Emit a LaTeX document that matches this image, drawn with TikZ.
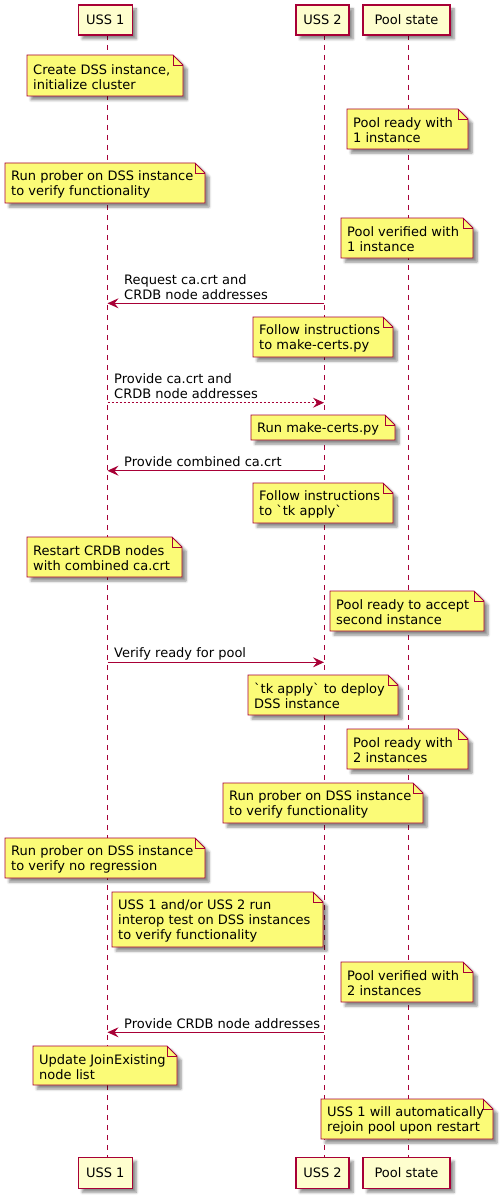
\documentclass[tikz,border=0pt]{standalone}
\usepackage{fontspec}
\setmainfont{DejaVu Sans}[Ligatures=TeXOff]
\usetikzlibrary{arrows.meta,shadows.blur}
\definecolor{pumlred}{HTML}{A80036}
\definecolor{pumlnote}{HTML}{FBFB77}
\definecolor{pumlpart}{HTML}{FEFECE}
\tikzset{
  shd/.style={blur shadow={shadow xshift=4pt,shadow yshift=-4pt,shadow blur radius=2.5pt,shadow blur steps=6,shadow opacity=45}},
  partbox/.style={draw=pumlred,fill=pumlpart,line width=1.4pt,shd,inner sep=0pt,font=\fontsize{13}{15}\selectfont},
  lifeline/.style={draw=pumlred,line width=0.9pt,dash pattern=on 5pt off 5pt},
  notebody/.style={draw=pumlred,fill=pumlnote,line width=0.9pt,shd},
  notefold/.style={draw=pumlred,line width=0.9pt},
  txt/.style={inner sep=0pt,align=left,anchor=west,yshift=-1.2pt,font=\fontsize{13}{15}\selectfont},
  msg/.style={draw=pumlred,line width=1pt,-{Stealth[length=11pt,width=10pt,inset=4pt]}},
  msgdash/.style={msg,dash pattern=on 2pt off 2pt}
}
\newcommand\pnote[6]{%
  \path[notebody] (#2,#3) -- (#4-10,#3) -- (#4,#3+10) -- (#4,#5) -- (#2,#5) -- cycle;
  \path[notefold] (#4-10,#3) -- (#4-10,#3+10) -- (#4,#3+10);
  \node[txt] (#1) at (#2+6,{(#3+#5)/2}) {#6};
}
\newcommand\bq{\symbol{96}}
\begin{document}
\begin{tikzpicture}[x=1pt,y=-1pt]
\useasboundingbox (0,0) rectangle (499,1201);
% lifelines
\coordinate (l1t) at (107.5,35); \coordinate (l1b) at (107.5,1157);
\coordinate (l2t) at (324,35);   \coordinate (l2b) at (324,1157);
\coordinate (l3t) at (408.3,35); \coordinate (l3b) at (408.3,1157);
\draw[lifeline] (l1t) -- (l1b);
\draw[lifeline] (l2t) -- (l2b);
\draw[lifeline] (l3t) -- (l3b);
% participants
\node[partbox,minimum width=54pt,minimum height=30pt] (u1top) at (105.3,20) {USS 1};
\node[partbox,minimum width=53pt,minimum height=30pt] (u2top) at (322.5,20) {USS 2};
\node[partbox,minimum width=87pt,minimum height=30pt] (pstop) at (406.5,20) {Pool state};
\node[partbox,minimum width=54pt,minimum height=31pt] (u1bot) at (105.3,1172.8) {USS 1};
\node[partbox,minimum width=53pt,minimum height=31pt] (u2bot) at (322.5,1172.8) {USS 2};
\node[partbox,minimum width=87pt,minimum height=31pt] (psbot) at (406.5,1172.8) {Pool state};
% notes
\pnote{n1}{27}{55}{183}{96}{Create DSS instance,\\initialize cluster}
\pnote{n2}{347}{109}{468}{149}{Pool ready with\\1 instance}
\pnote{n3}{5}{163}{205}{203}{Run prober on DSS instance\\to verify functionality}
\pnote{n4}{341}{218}{473}{258}{Pool verified with\\1 instance}
\pnote{n5}{253}{317}{393}{357}{Follow instructions\\to make-certs.py}
\pnote{n6}{251}{415}{395}{440}{Run make-certs.py}
\pnote{n7}{253}{483}{393}{523}{Follow instructions\\to \bq tk apply\bq}
\pnote{n8}{27}{537}{182}{577}{Restart CRDB nodes\\with combined ca.crt}
\pnote{n9}{330}{591}{484}{631}{Pool ready to accept\\second instance}
\pnote{n10}{248}{675}{398}{715}{\bq tk apply\bq{} to deploy\\DSS instance}
\pnote{n11}{347}{729}{468}{769}{Pool ready with\\2 instances}
\pnote{n12}{223}{783}{423}{823}{Run prober on DSS instance\\to verify functionality}
\pnote{n13}{5}{838}{205}{878}{Run prober on DSS instance\\to verify no regression}
\pnote{n14}{112}{892}{323}{947}{USS 1 and/or USS 2 run\\interop test on DSS instances\\to verify functionality}
\pnote{n15}{341}{962}{473}{1002}{Pool verified with\\2 instances}
\pnote{n16}{33}{1046}{177}{1085}{Update JoinExisting\\node list}
\pnote{n17}{321}{1099}{493}{1139}{USS 1 will automatically\\rejoin pool upon restart}
% messages
\coordinate (a1s) at (324,303.3);   \coordinate (a1e) at (107.5,303.3);
\coordinate (a2s) at (107.5,402.7); \coordinate (a2e) at (324,402.7);
\coordinate (a3s) at (324,470.7);   \coordinate (a3e) at (107.5,470.7);
\coordinate (a4s) at (107.5,662.3); \coordinate (a4e) at (324,662.3);
\coordinate (a5s) at (324,1032.3);  \coordinate (a5e) at (107.5,1032.3);
\draw[msg] (a1s) -- (a1e);
\draw[msgdash] (a2s) -- (a2e);
\draw[msg] (a3s) -- (a3e);
\draw[msg] (a4s) -- (a4e);
\draw[msg] (a5s) -- (a5e);
\node[txt] (m1) at (124,286.3) {Request ca.crt and\\CRDB node addresses};
\node[txt] (m2) at (114,384.7) {Provide ca.crt and\\CRDB node addresses};
\node[txt] (m3) at (124,460.7) {Provide combined ca.crt};
\node[txt] (m4) at (114,652.7) {Verify ready for pool};
\node[txt] (m5) at (124,1022.7) {Provide CRDB node addresses};
\end{tikzpicture}
\end{document}
